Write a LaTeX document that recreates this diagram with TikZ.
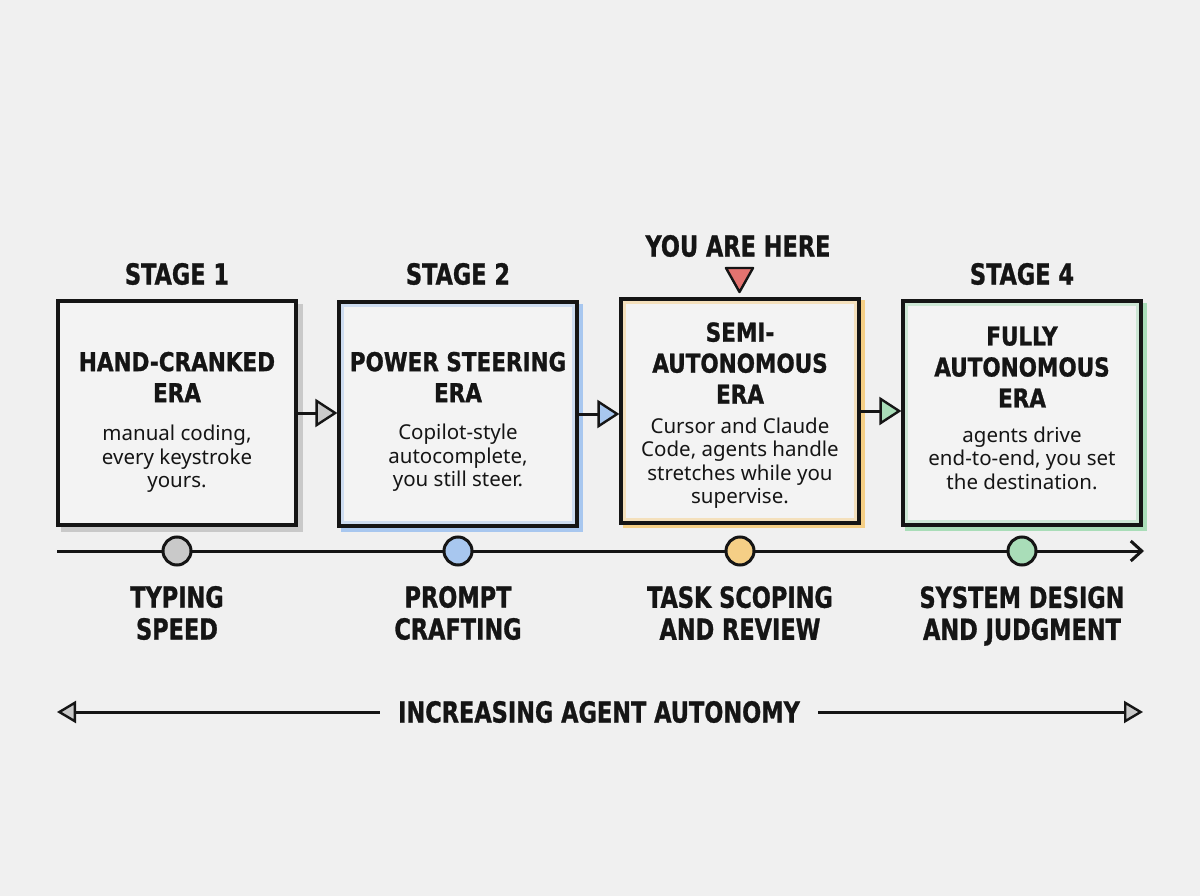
\documentclass[tikz,border=0pt]{standalone}
\usepackage{fontspec}
\setmainfont{Noto Sans}
\newfontfamily\headfont{DejaVu Sans Condensed}[FakeStretch=0.86, FakeBold=1]
\newfontfamily\titlefont{DejaVu Sans Condensed}[FakeStretch=0.92, FakeBold=1]
\usetikzlibrary{arrows.meta}
\definecolor{bgc}{HTML}{F0F0F0}
\definecolor{boxbg}{HTML}{F3F3F3}
\definecolor{accgray}{HTML}{C9C9C9}
\definecolor{accblue}{HTML}{A8C7EF}
\definecolor{accorange}{HTML}{F5CF86}
\definecolor{accgreen}{HTML}{A9DDB8}
\definecolor{accred}{HTML}{E47370}
\definecolor{ink}{HTML}{151515}
\begin{document}
\begin{tikzpicture}[x=1pt,y=-1pt,
  boxframe/.style={draw=ink, line width=3.2pt, fill=boxbg, minimum width=238pt, minimum height=224pt, inner sep=0pt},
  shade/.style={minimum width=242pt, minimum height=228pt, inner sep=0pt},
  inner/.style={minimum width=231.6pt, minimum height=217.6pt, inner sep=0pt, line width=3pt, draw opacity=0.5},
  head/.style={font=\headfont\bfseries\fontsize{29}{32}\selectfont, text=ink, align=center, inner sep=0pt},
  title/.style={font=\titlefont\bfseries\fontsize{26}{31}\selectfont, text=ink, align=center, inner sep=0pt},
  body/.style={font=\fontsize{20.5}{23.5}\selectfont, text=ink, align=center, inner sep=0pt},
  dot/.style={circle, draw=ink, line width=3pt, minimum size=28pt, inner sep=0pt},
  conn/.style={draw=ink, line width=3pt},
]
\fill[bgc] (0,0) rectangle (1200,896);
\useasboundingbox (0,0) rectangle (1200,896);

% accent shadows
\node[shade, fill=accgray] (s1) at (182,418) {};
\node[shade, fill=accblue] (s2) at (462,418) {};
\node[shade, fill=accorange] (s3) at (744,414) {};
\node[shade, fill=accgreen] (s4) at (1026,417) {};

% boxes
\node[boxframe] (b1) at (177,413) {};
\node[boxframe] (b2) at (458,414) {};
\node[boxframe] (b3) at (740,411) {};
\node[boxframe] (b4) at (1022,413) {};

% inner accent strokes
\node[inner, draw=accblue] (i2) at (458,414) {};
\node[inner, draw=accorange] (i3) at (740,411) {};
\node[inner, draw=accgreen] (i4) at (1022,413) {};

% stage labels
\node[head] (h1) at (177,274) {STAGE 1};
\node[head] (h2) at (458,274) {STAGE 2};
\node[head] (h3) at (738,246) {YOU ARE HERE};
\node[head] (h4) at (1022,274) {STAGE 4};
\draw[draw=ink, line width=2.4pt, fill=accred, line join=round] (726,268) -- (753,268) -- (739.5,292) -- cycle;

% box texts
\node[title] (t1) at (177,377) {HAND-CRANKED\\ERA};
\node[body] (d1) at (177,459) {manual coding,\\every keystroke\\yours.};
\node[title] (t2) at (458,377) {POWER STEERING\\ERA};
\node[body] (d2) at (458,458) {Copilot-style\\autocomplete,\\you still steer.};
\node[title] (t3) at (740,363) {SEMI-\\AUTONOMOUS\\ERA};
\node[body] (d3) at (740,463) {Cursor and Claude\\Code, agents handle\\stretches while you\\supervise.};
\node[title] (t4) at (1022,367) {FULLY\\AUTONOMOUS\\ERA};
\node[body] (d4) at (1022,458) {agents drive\\end-to-end, you set\\the destination.};

% connectors between boxes
\draw[conn, -{Triangle[length=22pt,width=28pt,fill=accgray,line width=2.4pt]}] (b1.east) -- (b1.east -| b2.west);
\draw[conn, -{Triangle[length=22pt,width=28pt,fill=accblue,line width=2.4pt]}] (b2.east) -- (b2.east -| b3.west);
\draw[conn, -{Triangle[length=22pt,width=28pt,fill=accgreen,line width=2.4pt]}] (b3.east) -- (b3.east -| b4.west);

% timeline
\coordinate (tl0) at (57,551);
\coordinate (tl1) at (1144,551);
\draw[conn, -{Straight Barb[length=11pt,width=20pt,line width=3pt]}] (tl0) -- (tl1);
\node[dot, fill=accgray] (c1) at (177,551) {};
\node[dot, fill=accblue] (c2) at (458,551) {};
\node[dot, fill=accorange] (c3) at (740,551) {};
\node[dot, fill=accgreen] (c4) at (1022,551) {};

% skill labels
\node[head] (l1) at (177,613) {TYPING\\SPEED};
\node[head] (l2) at (458,613) {PROMPT\\CRAFTING};
\node[head] (l3) at (740,613) {TASK SCOPING\\AND REVIEW};
\node[head] (l4) at (1022,616) {SYSTEM DESIGN\\AND JUDGMENT};

% autonomy axis
\node[head, inner xsep=18pt] (ax) at (599,712) {INCREASING AGENT AUTONOMY};
\coordinate (axl) at (57,712);
\coordinate (axr) at (1143,712);
\draw[conn, -{Triangle[length=19pt,width=22pt,fill=accgray,line width=2.4pt]}] (ax.west) -- (axl);
\draw[conn, -{Triangle[length=19pt,width=22pt,fill=accgray,line width=2.4pt]}] (ax.east) -- (axr);
\end{tikzpicture}
\end{document}
